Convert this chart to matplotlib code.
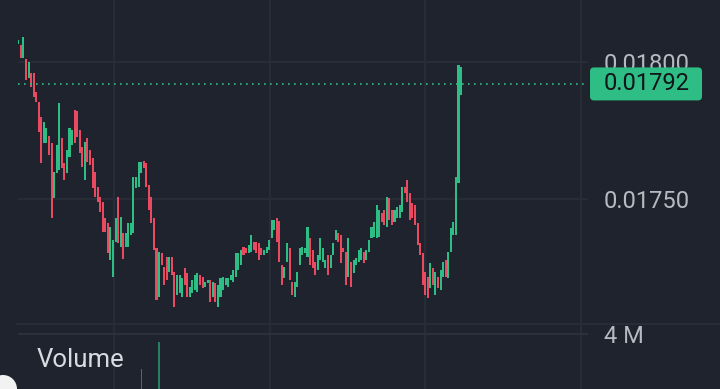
import numpy as np
import matplotlib
matplotlib.use("Agg")
import matplotlib.pyplot as plt
from matplotlib.patches import FancyBboxPatch, Circle
from matplotlib.lines import Line2D
from matplotlib.transforms import IdentityTransform

plt.rcParams['font.family'] = ['Roboto', 'DejaVu Sans']

# candle data (price)
opens = [
    0.018066, 0.018062, 0.018015, 0.018011, 0.017942, 0.017960, 0.017960, 0.017891, 0.017854, 0.017799,
    0.017704, 0.017704, 0.017730, 0.017704, 0.017504, 0.017595, 0.017606, 0.017723, 0.017631, 0.017595,
    0.017653, 0.017697, 0.017825, 0.017821, 0.017752, 0.017690, 0.017569, 0.017723, 0.017679, 0.017650,
    0.017599, 0.017544, 0.017507, 0.017489, 0.017431, 0.017412, 0.017277, 0.017215, 0.017343, 0.017507,
    0.017325, 0.017376, 0.017325, 0.017325, 0.017369, 0.017376, 0.017540, 0.017544, 0.017595, 0.017639,
    0.017631, 0.017551, 0.017507, 0.017431, 0.017321, 0.017142, 0.017303, 0.017252, 0.017288, 0.017234,
    0.017288, 0.017234, 0.017150, 0.017157, 0.017142, 0.017248, 0.017230, 0.017142, 0.017157, 0.017168,
    0.017161, 0.017223, 0.017215, 0.017179, 0.017193, 0.017204, 0.017142, 0.017193, 0.017106, 0.017142,
    0.017168, 0.017186, 0.017179, 0.017204, 0.017197, 0.017215, 0.017241, 0.017259, 0.017325, 0.017321,
    0.017303, 0.017307, 0.017343, 0.017343, 0.017339, 0.017321, 0.017296, 0.017303, 0.017314, 0.017358,
    0.017387, 0.017431, 0.017420, 0.017259, 0.017212, 0.017270, 0.017321, 0.017197, 0.017142, 0.017179,
    0.017259, 0.017296, 0.017303, 0.017288, 0.017358, 0.017314, 0.017270, 0.017241, 0.017277, 0.017270,
    0.017248, 0.017296, 0.017248, 0.017296, 0.017350, 0.017376, 0.017369, 0.017321, 0.017307, 0.017215,
    0.017270, 0.017230, 0.017259, 0.017270, 0.017277, 0.017307, 0.017277, 0.017307, 0.017358, 0.017361,
    0.017358, 0.017361, 0.017449, 0.017460, 0.017398, 0.017504, 0.017460, 0.017416, 0.017431, 0.017431,
    0.017453, 0.017544, 0.017569, 0.017522, 0.017485, 0.017478, 0.017412, 0.017339, 0.017303, 0.017234,
    0.017215, 0.017175, 0.017248, 0.017150, 0.017215, 0.017168, 0.017215, 0.017277, 0.017212, 0.017307,
    0.017369, 0.017369, 0.017558, 0.017880,
]
closes = [
    0.018080, 0.018015, 0.018091, 0.017934, 0.018000, 0.017909, 0.017872, 0.017854, 0.017745, 0.017631,
    0.017781, 0.017759, 0.017661, 0.017431, 0.017599, 0.017697, 0.017850, 0.017613, 0.017569, 0.017679,
    0.017759, 0.017752, 0.017704, 0.017726, 0.017668, 0.017617, 0.017708, 0.017635, 0.017624, 0.017540,
    0.017507, 0.017489, 0.017453, 0.017380, 0.017380, 0.017303, 0.017398, 0.017350, 0.017431, 0.017339,
    0.017434, 0.017281, 0.017376, 0.017412, 0.017412, 0.017580, 0.017580, 0.017635, 0.017635, 0.017613,
    0.017544, 0.017460, 0.017412, 0.017314, 0.017131, 0.017307, 0.017259, 0.017186, 0.017204, 0.017288,
    0.017223, 0.017106, 0.017223, 0.017223, 0.017212, 0.017186, 0.017142, 0.017179, 0.017204, 0.017223,
    0.017230, 0.017186, 0.017175, 0.017197, 0.017204, 0.017124, 0.017197, 0.017124, 0.017186, 0.017212,
    0.017215, 0.017212, 0.017212, 0.017223, 0.017241, 0.017303, 0.017303, 0.017314, 0.017296, 0.017303,
    0.017332, 0.017369, 0.017314, 0.017303, 0.017277, 0.017296, 0.017314, 0.017325, 0.017350, 0.017423,
    0.017423, 0.017343, 0.017270, 0.017186, 0.017252, 0.017339, 0.017204, 0.017150, 0.017197, 0.017234,
    0.017321, 0.017325, 0.017321, 0.017398, 0.017259, 0.017248, 0.017223, 0.017296, 0.017358, 0.017321,
    0.017277, 0.017223, 0.017296, 0.017339, 0.017387, 0.017343, 0.017266, 0.017307, 0.017186, 0.017358,
    0.017179, 0.017277, 0.017285, 0.017314, 0.017321, 0.017266, 0.017314, 0.017350, 0.017398, 0.017416,
    0.017478, 0.017460, 0.017416, 0.017405, 0.017507, 0.017423, 0.017405, 0.017460, 0.017471, 0.017478,
    0.017544, 0.017522, 0.017489, 0.017423, 0.017431, 0.017405, 0.017332, 0.017296, 0.017186, 0.017150,
    0.017139, 0.017266, 0.017186, 0.017234, 0.017175, 0.017241, 0.017270, 0.017215, 0.017307, 0.017394,
    0.017416, 0.017580, 0.017989, 0.017982,
]
last_price = 0.01792
price_ticks = [0.01750, 0.01800]

# only the volume bars that show above the bottom edge
volume_index = [48, 55]
volume_values = [2.35e6, 3.6e6]
volume_ticks = [4e6]
volume_tick_labels = ['4 M']

# time grid positions (in candle units)
time_grid = [37.4, 98.4, 158.9, 219.9]

bg = '#1f232d'
grid_c = '#2a2e39'
up_c = '#2ebd85'
down_c = '#ea4a5f'
text_c = '#b7bac1'

W, H = 720, 389
fig = plt.figure(figsize=(W / 100, H / 100), dpi=100, facecolor=bg)
ax = fig.add_axes([18 / W, 65 / H, 570 / W, 324 / H])
axv = fig.add_axes([18 / W, 0, 570 / W, 65 / H], sharex=ax)

o = np.array(opens)
c = np.array(closes)
x = np.arange(len(o))
cols = np.where(c >= o, up_c, down_c)
ax.bar(x, np.abs(c - o), bottom=np.minimum(o, c), width=0.8, color=cols, linewidth=0)

for a in (ax, axv):
    a.set_facecolor(bg)
    for s in a.spines.values():
        s.set_visible(False)
    for xg in time_grid:
        a.axvline(xg, color=grid_c, lw=1.3, zorder=0)
    a.tick_params(axis='x', length=0, labelbottom=False)

ax.set_xlim(-0.12, 222.6)
ax.set_ylim(0.0170437, 0.0182263)
for p in price_ticks:
    ax.axhline(p, color=grid_c, lw=1.3, zorder=0)
ax.yaxis.tick_right()
ax.set_yticks(price_ticks)
ax.set_yticklabels(['%.5f' % p for p in price_ticks])
ax.tick_params(axis='y', length=0, pad=11.5, labelsize=17, labelcolor=text_c)

ax.axhline(last_price, color=up_c, lw=1.2, dashes=(1, 2.6), zorder=3)

# volume pane
axv.bar(volume_index, volume_values, width=0.45, color=up_c, alpha=0.6, linewidth=0)
axv.set_ylim(1.4e6, 4.47e6)
for v in volume_ticks:
    axv.axhline(v, color='#2e323d', lw=1.3, zorder=0)
axv.yaxis.tick_right()
axv.set_yticks(volume_ticks)
axv.set_yticklabels(volume_tick_labels)
axv.tick_params(axis='y', length=0, pad=11.5, labelsize=17, labelcolor=text_c)

# pane separator
fig.add_artist(Line2D([17 / W, 1], [65 / H, 65 / H], color=grid_c, lw=1.3))

# last price tag, drawn over the 0.01800 label like the app does
fig.canvas.draw()
yd = ax.transData.transform((0, last_price))[1]
tag = FancyBboxPatch((590, yd - 16.5), 112, 33, boxstyle='round,pad=0,rounding_size=4',
                     fc=up_c, ec='none', transform=IdentityTransform(), zorder=5)
fig.add_artist(tag)
fig.text(604 / W, yd / H, '%.5f' % last_price, fontsize=17, color='#111418',
         va='center', ha='left', zorder=6)

fig.text(37 / W, (H - 360) / H, 'Volume', fontsize=18.5, color='#d8dbe2', va='center', ha='left')
fig.add_artist(Circle((3, 0), 14, transform=IdentityTransform(), fc='#f2f2f2', ec='none'))

fig.savefig('out.png', dpi=100, facecolor=bg)
